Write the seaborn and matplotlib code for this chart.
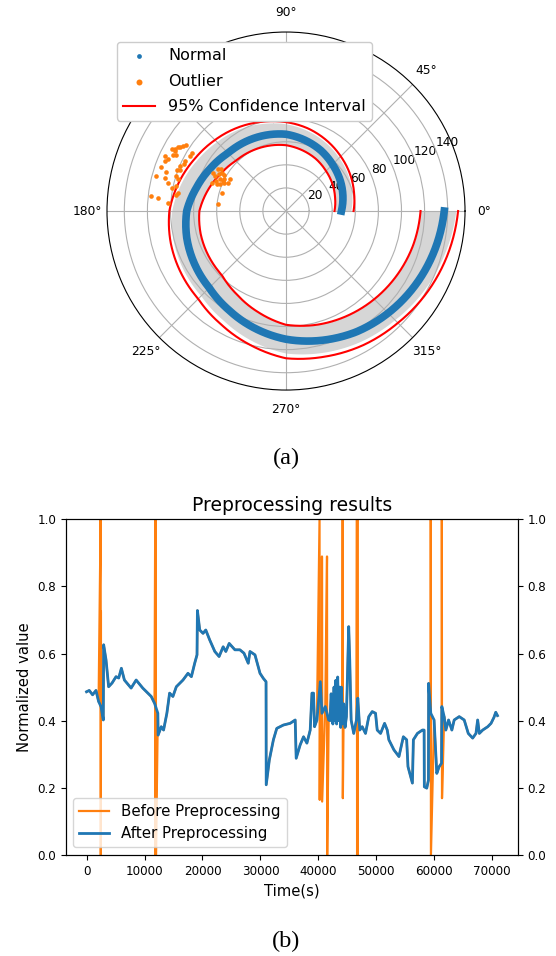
import numpy as np
import matplotlib
matplotlib.use('Agg')
import matplotlib.pyplot as plt
import seaborn as sns

# ---- (a) polar spiral: values read every 15 degrees ----
spiral_deg = [0, 15, 30, 45, 60, 75, 90, 105, 120, 135, 150, 165, 180,
              195, 210, 225, 240, 255, 270, 285, 300, 315, 330, 345, 360]
normal_r = [48, 51, 54, 57, 60.5, 63.5, 66.5, 68, 69.5, 71, 75, 80, 86,
            89, 91.5, 94, 99, 105, 111, 116, 121, 125, 129, 133, 137]
ci_lower = [42, 44, 46.5, 49, 52, 54.5, 57, 58.5, 60, 61.5, 65, 70, 75,
            76.5, 77.5, 78.5, 84, 91, 98.5, 102, 105, 108, 111, 114, 116.5]
ci_upper = [58.5, 61, 64, 67, 70.5, 74, 77, 80, 83.5, 87, 91, 96, 101,
            103.5, 105.5, 107.5, 113, 120, 127.5, 130.5, 134, 137, 141, 145, 149]
band_upper = [56, 59, 62, 65, 68.5, 72, 75.5, 78.5, 82, 85, 89, 94, 99,
              101, 102.5, 104, 109, 116, 123, 126.5, 130, 133, 137.5, 142, 147]

outlier_deg = [151.6, 149.5, 147.7, 151.6, 157.5, 156, 153.7, 164.9, 164.6, 161.9,
               166.4, 173.6, 174, 175.9, 162.2, 167.2, 157, 153.7, 150.2, 148.1,
               170.3, 155.5, 152.8, 159.5, 146.5, 160.5, 168.5, 150.8, 148.9,
               155.0, 158.8, 163.5, 171.5,
               148.4, 149.6, 153.8, 153.9, 154.4, 159.6, 150.5, 154.4, 164.6,
               174.3, 158.2, 152.2, 151, 156.5, 157.5, 155.8, 147.5, 150.0, 152.9]
outlier_r = [112.6, 108.4, 105.4, 109.4, 113.5, 111.7, 109, 116.2, 108.9, 108.9,
             105, 117.2, 111.4, 102.3, 99.6, 98.1, 99.9, 97.7, 96, 95.8,
             94.8, 115, 107, 101, 104, 115, 100.5, 110.5, 106.8,
             97.0, 98.8, 97.5, 96.5,
             69, 64.6, 68.7, 63.8, 60.3, 68.8, 55.8, 55.5, 57.8,
             59, 63.9, 71.3, 66.5, 66, 61.5, 58.5, 67.2, 62.0, 60.0]

# ---- (b) preprocessing: time (s) and normalized value after preprocessing ----
time_s = [0, 470, 1040, 1630, 2080, 2490, 2890, 2950, 3360, 3810, 4400, 5090, 5550,
          6010, 6530, 7690, 8560, 9700, 10570, 11160, 11730, 12300, 12350, 12890,
          13290, 13860, 14330, 14900, 15490, 16060, 16640, 17500, 18090, 18660,
          19060, 19130, 19530, 20100, 20570, 21260, 22130, 22870, 23570, 24030,
          24610, 25600, 26460, 27160, 27900, 28200, 29060, 29930, 30500, 30970,
          31000, 31540, 32240, 32820, 33970, 35130, 36000, 36170, 36860, 37440,
          38020, 38590, 38890, 39160, 39340, 39750, 40330, 40620, 41190, 41770,
          42000, 42200, 42500, 42700, 42850, 43000, 43150, 43330, 43500, 43680,
          43850, 43970, 44150, 44370, 44600, 44840, 45230, 45410, 45650, 46100,
          46570, 46800, 47140, 47560, 48130, 48700, 49290, 49860, 50150, 50730,
          51420, 51880, 52160, 53030, 53900, 54660, 55230, 55460, 56220, 56390,
          57090, 57950, 58240, 58280, 58700, 58990, 59020, 59390, 59960, 60430,
          60840, 61250, 61300, 61700, 61990, 62460, 63030, 63430, 64300, 65160,
          65860, 66620, 67190, 67480, 67770, 68350, 69220, 69790, 70300, 70600,
          70900]
after_val = [0.486, 0.49, 0.477, 0.49, 0.457, 0.442, 0.402, 0.626, 0.581, 0.501, 0.512,
             0.531, 0.527, 0.556, 0.521, 0.497, 0.521, 0.497, 0.482, 0.472, 0.452,
             0.422, 0.357, 0.382, 0.372, 0.422, 0.482, 0.472, 0.501, 0.511, 0.521,
             0.541, 0.531, 0.571, 0.596, 0.728, 0.67, 0.66, 0.67, 0.64, 0.606, 0.591,
             0.62, 0.606, 0.63, 0.611, 0.611, 0.601, 0.571, 0.606, 0.596, 0.541,
             0.526, 0.516, 0.209, 0.283, 0.343, 0.377, 0.387, 0.392, 0.402, 0.288,
             0.328, 0.352, 0.333, 0.372, 0.482, 0.482, 0.382, 0.402, 0.516, 0.422,
             0.442, 0.402, 0.40, 0.48, 0.39, 0.50, 0.40, 0.52, 0.39, 0.53, 0.40,
             0.50, 0.38, 0.50, 0.39, 0.45, 0.38, 0.412, 0.68, 0.581, 0.402, 0.362,
             0.402, 0.467, 0.372, 0.382, 0.362, 0.412, 0.427, 0.422, 0.372, 0.362,
             0.392, 0.372, 0.343, 0.313, 0.293, 0.352, 0.343, 0.263, 0.214, 0.343,
             0.362, 0.372, 0.372, 0.203, 0.199, 0.223, 0.511, 0.422, 0.402, 0.243,
             0.263, 0.273, 0.442, 0.412, 0.372, 0.402, 0.372, 0.402, 0.412, 0.402,
             0.362, 0.348, 0.362, 0.402, 0.362, 0.372, 0.382, 0.392, 0.41, 0.425,
             0.415]

# outliers removed by preprocessing (time, high end, low end)
spike_t = [2430, 2480, 11850, 11950, 40200, 40620, 41490, 44190, 46650, 46720, 59390, 61300]
spike_hi = [1.0, 0.725, 1.0, 1.0, 1.0, 0.889, 0.889, 1.0, 1.0, 1.0, 1.0, 1.0]
spike_lo = [0.0, 0.45, 0.0, 0.0, 0.164, 0.159, 0.0, 0.169, 0.0, 0.0, 0.0, 0.169]

blue = '#1f77b4'
orange = '#ff7f0e'

fig = plt.figure(figsize=(5.56, 9.56), dpi=100)

# ---------- polar panel ----------
ax1 = fig.add_axes([0.1924, 0.592, 0.644, 0.3745], projection='polar')
th = np.deg2rad(spiral_deg)
band = ax1.fill_between(th, ci_lower, band_upper, color='#d6d6d6', zorder=1, lw=0)
sns.lineplot(x=th, y=normal_r, ax=ax1, color=blue, lw=5.5, sort=False,
             estimator=None, zorder=3)
sns.scatterplot(x=th, y=normal_r, ax=ax1, color=blue, s=7, linewidth=0,
                label='Normal', zorder=3)
sns.scatterplot(x=np.deg2rad(outlier_deg), y=outlier_r, ax=ax1, color=orange, s=11,
                linewidth=0, label='Outlier', zorder=4)
sns.lineplot(x=th, y=ci_lower, ax=ax1, color='red', lw=1.5, sort=False,
             estimator=None, label='95% Confidence Interval', zorder=2)
sns.lineplot(x=th, y=ci_upper, ax=ax1, color='red', lw=1.5, sort=False,
             estimator=None, zorder=2)
# draw the segments between readings as spiral arcs, not chords
for ln in ax1.lines:
    ln.get_path()._interpolation_steps = 20
for p in band.get_paths():
    p._interpolation_steps = 20
ax1.set_ylim(0, 155)
ax1.set_yticks([20, 40, 60, 80, 100, 120, 140])
ax1.tick_params(labelsize=8.8)
ax1.grid(True, color='#b0b0b0', lw=0.8)
ax1.set_xlabel('')
ax1.set_ylabel('')
leg = ax1.legend(loc='upper left', bbox_to_anchor=(117 / 556, 1 - 42 / 956),
                 bbox_transform=fig.transFigure, borderaxespad=0, fontsize=11.5,
                 labelspacing=0.65, markerscale=1.3, framealpha=1)
leg.set_zorder(10)

# ---------- line panel ----------
ax2 = fig.add_axes([0.1187, 0.1057, 0.813, 0.3512])
raw_t = list(time_s) + spike_t + [t + 30 for t in spike_t]
raw_v = list(after_val) + spike_hi + spike_lo
order = np.argsort(raw_t, kind='stable')
raw_t = np.array(raw_t)[order]
raw_v = np.array(raw_v)[order]
sns.lineplot(x=raw_t, y=raw_v, ax=ax2, color=orange, lw=1.6, sort=False,
             estimator=None, label='Before Preprocessing')
sns.lineplot(x=np.array(time_s), y=np.array(after_val), ax=ax2, color=blue, lw=2,
             sort=False, estimator=None, label='After Preprocessing')
ax2.set_ylim(0, 1)
ax2.set_xticks(range(0, 70001, 10000))
ax2.set_title('Preprocessing results', fontsize=13.5)
ax2.set_xlabel('Time(s)', fontsize=10.6)
ax2.set_ylabel('Normalized value', fontsize=10.6)
ax2.tick_params(labelsize=8.6)
ax2.legend(loc='lower left', fontsize=10.8)
ax3 = ax2.twinx()
ax3.set_ylim(0, 1)
ax3.tick_params(labelsize=8.6)

fig.text(0.5144, 1 - 458 / 956, '(a)', ha='center', va='center',
         family='Liberation Serif', fontsize=17.5)
fig.text(0.5144, 1 - 941 / 956, '(b)', ha='center', va='center',
         family='Liberation Serif', fontsize=17.5)

fig.savefig('out.png', dpi=100)
